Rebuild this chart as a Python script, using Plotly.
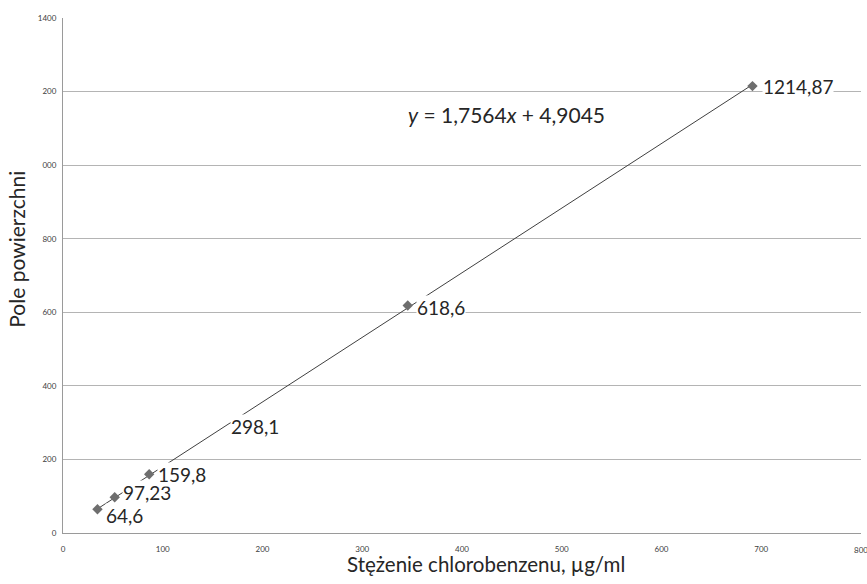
import plotly.graph_objects as go

# ---- data ----
conc = [34.56, 51.84, 86.4, 172.8, 345.6, 691.2]
area = [64.6, 97.23, 159.8, 298.1, 618.6, 1214.87]
point_labels = ["64,6", "97,23", "159,8", "298,1", "618,6", "1214,87"]
slope = 1.7564
intercept = 4.9045
y_tickvals = [0, 200, 400, 600, 800, 1000, 1200, 1400]
y_ticktext = ["0", "200", "400", "600", "800", "000", "200", "1400"]
x_tickvals = [0, 100, 200, 300, 400, 500, 600, 700, 800]
x_ticktext = ["0", "100", "200", "300", "400", "500", "600", "700", "800"]
x_title = "Stężenie chlorobenzenu, µg/ml"
y_title = "Pole powierzchni"

FONT = "Lato, 'Open Sans', sans-serif"

fig = go.Figure()

# trendline
tx = [min(conc), max(conc)]
ty = [slope * v + intercept for v in tx]
fig.add_trace(go.Scatter(x=tx, y=ty, mode="lines",
                         line=dict(color="#404040", width=1),
                         hoverinfo="skip", showlegend=False))

# data points
fig.add_trace(go.Scatter(x=conc, y=area, mode="markers",
                         marker=dict(symbol="diamond", size=8, color="#6e6e6e"),
                         showlegend=False))

# data labels (pixel nudges only)
label_shift = [(8, -6), (7, 5), (8, 0), (-5, -3), (8, -2), (10, 0)]
for xv, yv, t, (dx, dy) in zip(conc, area, point_labels, label_shift):
    fig.add_annotation(x=xv, y=yv, text=t, showarrow=False,
                       xanchor="left", yanchor="middle",
                       xshift=dx, yshift=dy,
                       bgcolor="white", borderpad=0,
                       font=dict(family=FONT, size=19, color="#262626"))

def fmt(v):
    return ("%g" % v).replace(".", ",")

eq = "<i>y</i> = %s<i>x</i> + %s" % (fmt(slope), fmt(intercept))
fig.add_annotation(xref="paper", yref="paper",
                   x=(406 - 63) / 798, y=(533 - 115) / 514.5,
                   xanchor="left", yanchor="middle", text=eq, showarrow=False,
                   font=dict(family=FONT, size=21, color="#262626"))

# last x tick label (at the right edge, as in the source)
fig.add_annotation(x=x_tickvals[-1], y=0, yref="y", text=x_ticktext[-1],
                   showarrow=False, xanchor="center", yanchor="top", yshift=-10,
                   font=dict(family=FONT, size=8, color="#404040"))

# axis titles
fig.add_annotation(xref="paper", yref="paper",
                   x=(486 - 63) / 798, y=(533 - 564) / 514.5,
                   xanchor="center", yanchor="middle", text=x_title, showarrow=False,
                   font=dict(family=FONT, size=20.5, color="#262626"))
fig.add_annotation(xref="paper", yref="paper",
                   x=(17 - 63) / 798, y=(533 - 250) / 514.5,
                   xanchor="center", yanchor="middle", text=y_title, showarrow=False,
                   textangle=-90,
                   font=dict(family=FONT, size=21, color="#262626"))

fig.update_layout(
    width=867, height=584,
    margin=dict(l=63, r=6, t=18, b=51, autoexpand=False),
    paper_bgcolor="white", plot_bgcolor="white",
    showlegend=False,
    xaxis=dict(range=[0, 800], tickvals=x_tickvals, ticktext=x_ticktext,
               showgrid=False, zeroline=False, showline=True,
               linecolor="#9a9a9a", linewidth=1, ticks="",
               ticklabelstandoff=8,
               tickfont=dict(family=FONT, size=8, color="#404040"),
               automargin=False),
    yaxis=dict(range=[0, 1400], tickvals=y_tickvals, ticktext=y_ticktext,
               showgrid=True, gridcolor="#b4b4b4", gridwidth=1,
               zeroline=False, showline=True,
               linecolor="#9a9a9a", linewidth=1, ticks="",
               ticklabelstandoff=4,
               tickfont=dict(family=FONT, size=8, color="#404040"),
               automargin=False),
)

fig.write_html("out.html", config={"displayModeBar": False})

# remove the default page margin so the figure sits at the window origin
with open("out.html", "r", encoding="utf-8") as f:
    html = f.read()
html = html.replace("<body>", '<body style="margin:0;padding:0;overflow:hidden">', 1)
with open("out.html", "w", encoding="utf-8") as f:
    f.write(html)
